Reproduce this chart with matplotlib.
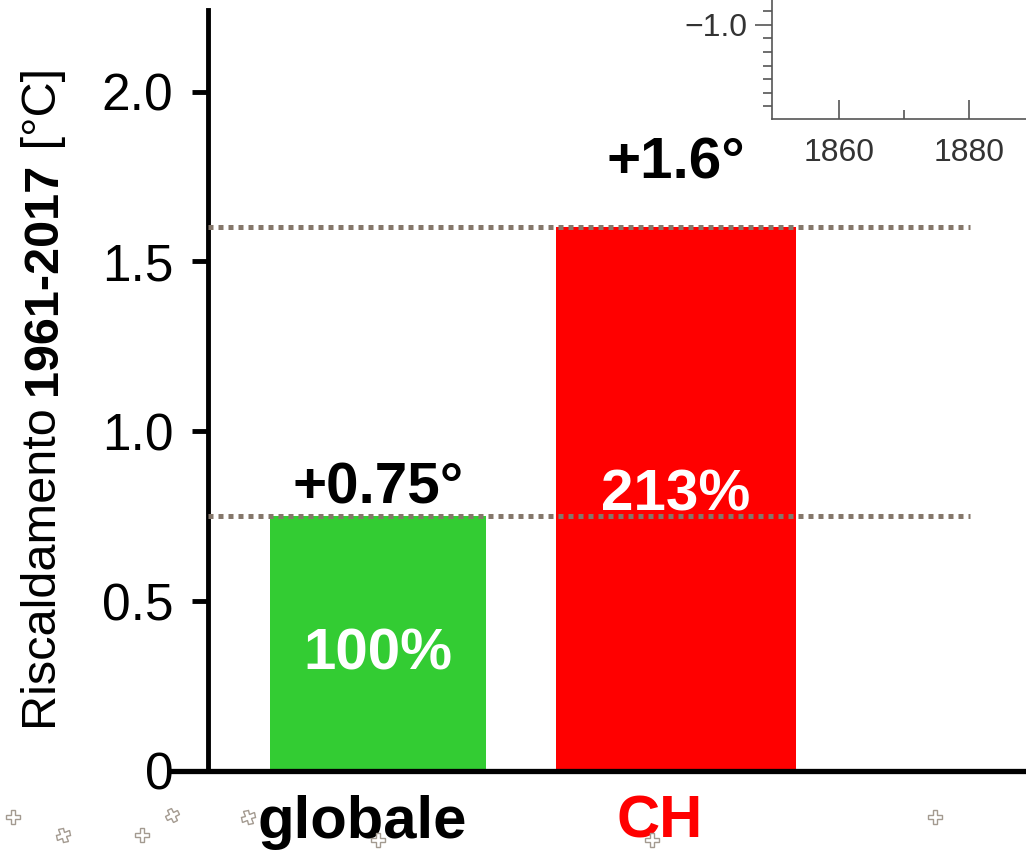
import matplotlib
matplotlib.use("Agg")
import matplotlib.pyplot as plt
from matplotlib.markers import MarkerStyle
from matplotlib.transforms import Affine2D, blended_transform_factory, ScaledTranslation
import numpy as np

# ---- data ----
categories = ["globale", "CH"]
warming = [0.75, 1.6]                  # warming 1961-2017 in °C
bar_colors = ["#33cc33", "#ff0000"]
label_colors = ["#000000", "#ff0000"]
y_ticks = [0, 0.5, 1.0, 1.5, 2.0]
y_tick_labels = ["0", "0.5", "1.0", "1.5", "2.0"]

# small time-axis panel (corner of a time series plot)
inset_x_major = [1860, 1880]
inset_x_minor = [1870]
inset_y_major = [-1.0]
inset_y_minor = [-1.6, -1.5, -1.4, -1.3, -1.2, -1.1, -0.9]

# ---- layout ----
W, H, DPI = 1026, 850, 100
bar_widths = [0.725, 0.805]
value_offsets_pt = [9.5, 35]          # gap between bar top and value label
pct_frac = [0.40, 0.48]               # baseline of percent label, fraction of bar height

plt.rcParams["font.family"] = ["Liberation Sans", "DejaVu Sans"]

fig = plt.figure(figsize=(W / DPI, H / DPI), dpi=DPI)
ax = fig.add_axes([208 / W, (H - 771) / H, (W - 208) / W, (771 - 10) / H])

x = np.arange(len(categories))
ax.bar(x, warming, width=bar_widths, color=bar_colors, zorder=2)
ax.set_xlim(-0.570, 2.174)
ax.set_ylim(0, 2.24)

# dotted reference lines at each bar's level
for v in warming:
    ax.plot([ax.get_xlim()[0], 1.987], [v, v], color="#85776a", lw=3.6,
            ls=(0, (1, 1)), dash_capstyle="butt", zorder=3, clip_on=False)

# spines
for s in ["top", "right", "bottom"]:
    ax.spines[s].set_visible(False)
ax.spines["left"].set_linewidth(3.5)
ax.plot([-0.708, ax.get_xlim()[1]], [0, 0], color="black", lw=3.8,
        solid_capstyle="butt", clip_on=False, zorder=4)

ax.set_yticks(y_ticks)
ax.set_yticklabels(y_tick_labels)
ax.tick_params(axis="y", direction="out", length=11.5, width=3.5,
               labelsize=37, pad=13.5)
ax.set_xticks([])

# value labels above bars and share labels inside bars
for i, v in enumerate(warming):
    ax.annotate(f"+{v:.2g}°", (x[i], v), xytext=(0, value_offsets_pt[i]),
                textcoords="offset points", ha="center", va="baseline",
                fontsize=42, fontweight="bold", color="black", zorder=5)
    pct = v / warming[0] * 100
    ax.text(x[i], v * pct_frac[i], f"{pct:.0f}%", ha="center", va="baseline",
            fontsize=42, fontweight="bold", color="white", zorder=5)

# category labels below the axis
cat_tr = blended_transform_factory(ax.transData, fig.transFigure) + \
    ScaledTranslation(-16 / DPI, 0, fig.dpi_scale_trans)
for i, c in enumerate(categories):
    ax.text(x[i], (H - 838) / H, c, transform=cat_tr, ha="center",
            va="baseline", fontsize=43, fontweight="bold",
            color=label_colors[i], clip_on=False)

# y label: regular / bold / regular pieces stacked along the axis
parts = [("Riscaldamento ", "normal"), ("1961-2017", "bold"), (" [°C]", "normal")]
fig.canvas.draw()
renderer = fig.canvas.get_renderer()
ypos = 730.0
for txt, wt in parts:
    t = fig.text(56 / W, 1 - ypos / H, txt, rotation=90, rotation_mode="anchor",
                 ha="left", va="baseline", fontsize=35, fontweight=wt)
    bb = t.get_window_extent(renderer)
    ypos -= bb.height

# decorative outlined crosses along the bottom edge
cross_pts = [(13, 817, 0), (63, 835, 20), (142, 835, 0), (172, 815, 25),
             (248, 817, 20), (378, 840, 0), (652, 840, 0), (935, 817, 0),
             (53, 858, 0), (132, 858, 0), (228, 858, 0), (953, 858, 0),
             (1013, 858, 0)]
for cx, cy, rot in cross_pts:
    m = MarkerStyle("P", transform=Affine2D().rotate_deg(rot))
    fig.lines.append(plt.Line2D([cx / W], [1 - cy / H], transform=fig.transFigure,
                                marker=m, markersize=10, markerfacecolor="white",
                                markeredgecolor="#a39a90", markeredgewidth=1.0,
                                linestyle="none"))

# corner of a time-series panel at top right
ax2 = fig.add_axes([772 / W, (H - 119) / H, (W - 772) / W, 119 / H])
ax2.set_xlim(1849.7, 1888.8)
ax2.set_ylim(-1.696, -0.815)
ax2.patch.set_alpha(0)
for s in ["top", "right"]:
    ax2.spines[s].set_visible(False)
for s in ["left", "bottom"]:
    ax2.spines[s].set_color("#555555")
    ax2.spines[s].set_linewidth(1.2)
ax2.set_xticks(inset_x_major)
ax2.set_xticks(inset_x_minor, minor=True)
ax2.set_yticks(inset_y_major)
ax2.set_yticks(inset_y_minor, minor=True)
ax2.set_yticklabels(["\u22121.0"])
ax2.tick_params(axis="x", which="major", direction="in", length=13.5, width=1.2,
                color="#555555", labelsize=23, labelcolor="#333333", pad=14)
ax2.tick_params(axis="x", which="minor", direction="in", length=6.5, width=1.2,
                color="#555555")
ax2.tick_params(axis="y", which="major", direction="out", length=12, width=1.2,
                color="#555555", labelsize=23, labelcolor="#333333", pad=6)
ax2.tick_params(axis="y", which="minor", direction="out", length=6.5, width=1.2,
                color="#555555")

fig.savefig("out.png", dpi=DPI)
